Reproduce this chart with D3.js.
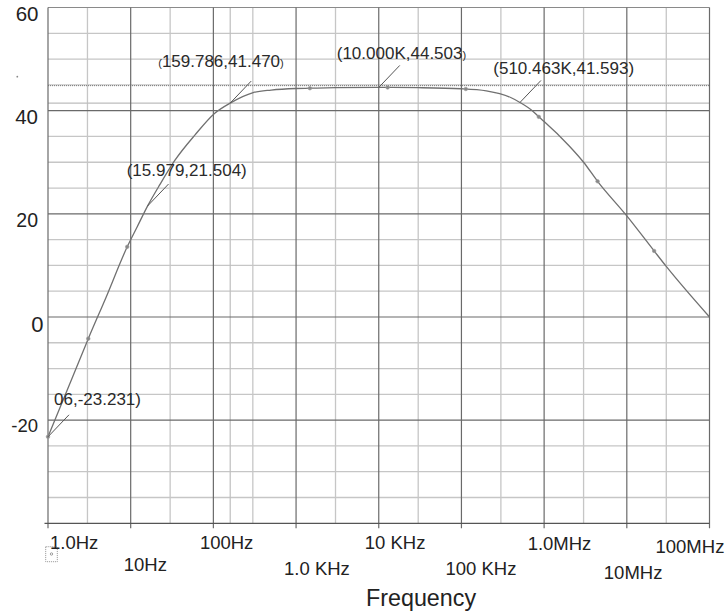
<!DOCTYPE html>
<html><head><meta charset="utf-8">
<script src="https://cdn.jsdelivr.net/npm/d3@7"></script>
<style>html,body{margin:0;padding:0;background:#fff;} svg{display:block;font-family:"Liberation Sans",Arial,sans-serif;}</style>
</head><body>
<svg id="chart" width="728" height="615"></svg>
<script>
// ---- data ----
const freq = [1, 2, 3.07, 5, 9.08, 12, 15.98, 22.6, 34, 60, 104, 159.8, 303, 500, 1000, 1470, 3000, 10000, 30000, 100000, 200000, 290000, 400000, 510463, 730000, 862000, 1e6, 2e6, 3e6, 4.43e6, 1e7, 2.14e7, 3e7, 1e8];
const gain = [-23.23, -11.5, -4.2, 3.7, 13.6, 17.5, 21.5, 25.7, 30.3, 35.3, 39.5, 41.47, 43.5, 44.0, 44.3, 44.35, 44.45, 44.503, 44.45, 44.25, 43.85, 43.3, 42.5, 41.593, 39.9, 38.8, 37.9, 33.2, 30.0, 26.3, 19.6, 12.8, 9.8, 0];
const markerFreq = [1, 3.07, 9.08, 1470, 12800, 113000, 862000, 4.43e6, 2.14e7];
const markerGain = [-23.23, -4.2, 13.6, 44.35, 44.5, 44.2, 38.8, 26.3, 12.8];
const cursorFreq = [1, 15.979, 159.786, 10000, 510463];
const cursorGain = [-23.231, 21.504, 41.470, 44.503, 41.593];
const cursorText = ["06,-23.231)", "(15.979,21.504)", "(159.786,41.470)", "(10.000K,44.503)", "(510.463K,41.593)"];
const yTicks = [60, 40, 20, 0, -20];
const xTickFreq = [1, 10, 100, 1e3, 1e4, 1e5, 1e6, 1e7, 1e8];
const xTickLabels = ["1.0Hz", "10Hz", "100Hz", "1.0 KHz", "10 KHz", "100 KHz", "1.0MHz", "10MHz", "100MHz"];
const xTitle = "Frequency";

// ---- layout ----
const L = 48, R = 709.5, T = 7.5, B = 523.3;
const svg = d3.select("#chart");
const x = d3.scaleLog().domain([1, 1e8]).range([L, R]);
const y = d3.scaleLinear().domain([-40, 60]).range([B, T]);
const minorC = "#c6c6c6", majorC = "#6a6a6a";

const g = svg.append("g");
// minor horizontal grid (every 5)
const hMinor = d3.range(-35, 60, 5).filter(v => v % 20 !== 0);
g.selectAll(".hm").data(hMinor).enter().append("line")
  .attr("x1", L).attr("x2", R).attr("y1", d => y(d)).attr("y2", d => y(d))
  .attr("stroke", minorC).attr("stroke-width", 1.3);
// minor vertical grid (3x each decade)
const vMinor = xTickFreq.slice(0, -1).map(f => f * 3);
g.selectAll(".vm").data(vMinor).enter().append("line")
  .attr("y1", T).attr("y2", B).attr("x1", d => x(d)).attr("x2", d => x(d))
  .attr("stroke", minorC).attr("stroke-width", 1.3);
// cursor crosshair lines
g.append("line").attr("x1", x(cursorFreq[2])).attr("x2", x(cursorFreq[2])).attr("y1", T).attr("y2", B)
  .attr("stroke", "#bdbdbd").attr("stroke-width", 1.2);
g.append("line").attr("x1", L).attr("x2", R).attr("y1", y(cursorGain[2])).attr("y2", y(cursorGain[2]))
  .attr("stroke", "#bdbdbd").attr("stroke-width", 1.2);
// major horizontal grid
g.selectAll(".hM").data([40, 20, 0, -20]).enter().append("line")
  .attr("x1", L).attr("x2", R).attr("y1", d => y(d)).attr("y2", d => y(d))
  .attr("stroke", majorC).attr("stroke-width", 1.2);
// top border
g.append("line").attr("x1", L).attr("x2", R).attr("y1", y(60)).attr("y2", y(60))
  .attr("stroke", "#8a8a8a").attr("stroke-width", 1.2);
// dotted reference line
g.append("line").attr("x1", L).attr("x2", R).attr("y1", y(44.85)).attr("y2", y(44.85))
  .attr("stroke", "#777").attr("stroke-width", 1).attr("stroke-dasharray", "1,1");
// major vertical grid with ticks below axis
g.selectAll(".vM").data(xTickFreq).enter().append("line")
  .attr("y1", T).attr("y2", B + 5).attr("x1", d => x(d)).attr("x2", d => x(d))
  .attr("stroke", majorC).attr("stroke-width", 1.2);
// bottom axis line
g.append("line").attr("x1", L - 3.5).attr("x2", R).attr("y1", B).attr("y2", B)
  .attr("stroke", "#555").attr("stroke-width", 1.2);

// curve
const line = d3.line().x((d, i) => x(freq[i])).y((d, i) => y(gain[i])).curve(d3.curveMonotoneX);
svg.append("path").datum(gain).attr("d", line).attr("fill", "none")
  .attr("stroke", "#707070").attr("stroke-width", 1.3);
// markers
svg.selectAll(".mk").data(markerFreq).enter().append("circle")
  .attr("cx", d => x(d)).attr("cy", (d, i) => y(markerGain[i])).attr("r", 1.8)
  .attr("fill", "#888").attr("stroke", "#999").attr("stroke-width", 0.6);

// cursor annotations
const textDx = [6, -20.8, -72, -42, -26.7];
const textDy = [-31.8, -30, -35.8, -28, -28.5];
cursorFreq.forEach((f, i) => {
  const px = x(f), py = y(cursorGain[i]);
  svg.append("line").attr("x1", px).attr("y1", py).attr("x2", px + 21).attr("y2", py - 22)
    .attr("stroke", "#555").attr("stroke-width", 1);
  const t = svg.append("text").attr("x", px + textDx[i]).attr("y", py + textDy[i])
    .attr("font-size", 17).attr("fill", "#2a2a2a");
  const s = cursorText[i];
  const smallOpen = (i === 2), smallClose = (i === 2 || i === 3);
  let body = s;
  if (smallOpen && body[0] === "(") { t.append("tspan").attr("font-size", 11).text("("); body = body.slice(1); }
  if (smallClose && body.endsWith(")")) {
    t.append("tspan").text(body.slice(0, -1));
    t.append("tspan").attr("font-size", 11).text(")");
  } else t.append("tspan").text(body);
});

// y labels
const ySize = {"60": 20.5, "40": 20.5, "20": 19.5, "0": 22, "-20": 18.5};
const yEnd = {"60": 38.5, "40": 38, "20": 38, "0": 43.5, "-20": 38};
svg.selectAll(".yl").data(yTicks).enter().append("text")
  .attr("x", d => yEnd[d]).attr("y", d => y(d) - 1.2 + 0.716 * ySize[d])
  .attr("text-anchor", "end").attr("font-size", d => ySize[d]).attr("fill", "#222")
  .text(d => d);

// x labels
const xDx = [2, -7, -13.5, -12, -14, -16, -16.5, -23, -54];
const xBase = [549.3, 570.7, 549.3, 575, 549.3, 575, 550, 579.3, 553.3];
svg.selectAll(".xl").data(xTickLabels).enter().append("text")
  .attr("x", (d, i) => x(xTickFreq[i]) + xDx[i]).attr("y", (d, i) => xBase[i])
  .attr("font-size", 18.5).attr("fill", "#222").text(d => d);
svg.append("text").attr("x", 366).attr("y", 606).attr("font-size", 23.3).attr("fill", "#222").text(xTitle);

// legend symbol box & stray dot
svg.append("rect").attr("x", 45.7).attr("y", 546.7).attr("width", 11.6).attr("height", 15)
  .attr("fill", "none").attr("stroke", "#777").attr("stroke-width", 0.8).attr("stroke-dasharray", "1,1");
svg.append("circle").attr("cx", 51.5).attr("cy", 554).attr("r", 1.2).attr("fill", "none").attr("stroke", "#777").attr("stroke-width", 0.7);
svg.append("circle").attr("cx", 17.3).attr("cy", 76.7).attr("r", 0.9).attr("fill", "#888");
</script>
</body></html>
